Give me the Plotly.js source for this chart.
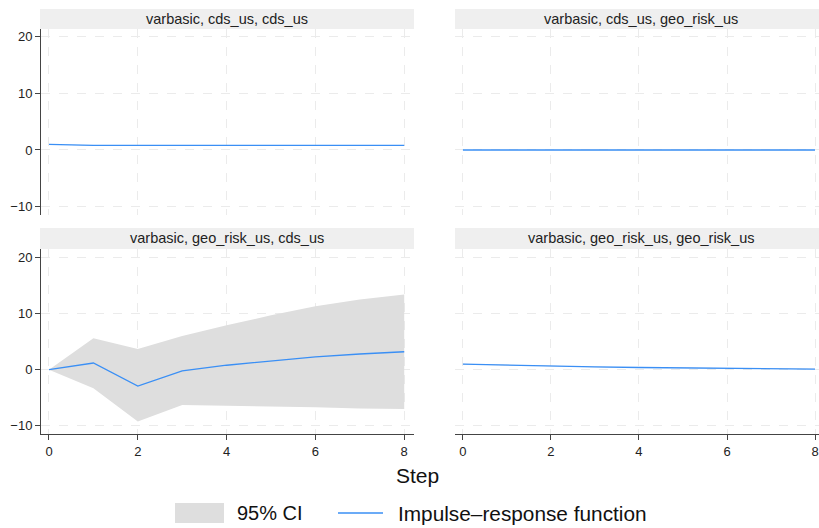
<!DOCTYPE html>
<html>
<head>
<meta charset="utf-8">
<script src="https://cdn.plot.ly/plotly-3.0.1.min.js"></script>
<style>html,body{margin:0;padding:0;background:#fff}#chart{width:819px;height:528px}</style>
</head>
<body>
<div id="chart"></div>
<script>
const steps = [0, 1, 2, 3, 4, 5, 6, 7, 8];

const panelTitles = [
  "varbasic, cds_us, cds_us",
  "varbasic, cds_us, geo_risk_us",
  "varbasic, geo_risk_us, cds_us",
  "varbasic, geo_risk_us, geo_risk_us"
];
const legendLabels = ["95% CI", "Impulse\u2013response function"];
const xTitle = "Step";

// Impulse-response functions
const irf_cds_cds = [1.0, 0.8, 0.8, 0.8, 0.8, 0.8, 0.8, 0.8, 0.8];
const irf_cds_geo = [0, 0, 0, 0, 0, 0, 0, 0, 0];
const irf_geo_cds = [0, 1.2, -2.9, -0.2, 0.8, 1.6, 2.3, 2.8, 3.2];
const irf_geo_geo = [1.0, 0.8, 0.6, 0.5, 0.4, 0.3, 0.25, 0.18, 0.12];

// 95% CI bounds (only clearly visible for geo_risk_us -> cds_us)
const ci_lo_cds_cds = [1.0, 0.75, 0.75, 0.75, 0.75, 0.75, 0.75, 0.75, 0.75];
const ci_hi_cds_cds = [1.0, 0.85, 0.85, 0.85, 0.85, 0.85, 0.85, 0.85, 0.85];
const ci_lo_cds_geo = [0, -0.05, -0.05, -0.05, -0.05, -0.05, -0.05, -0.05, -0.05];
const ci_hi_cds_geo = [0, 0.05, 0.05, 0.05, 0.05, 0.05, 0.05, 0.05, 0.05];
const ci_lo_geo_cds = [0, -3.3, -9.2, -6.3, -6.4, -6.5, -6.7, -6.9, -7.0];
const ci_hi_geo_cds = [0, 5.6, 3.7, 6.0, 7.9, 9.7, 11.3, 12.5, 13.4];
const ci_lo_geo_geo = [0.95, 0.75, 0.55, 0.45, 0.35, 0.25, 0.2, 0.13, 0.07];
const ci_hi_geo_geo = [1.05, 0.85, 0.65, 0.55, 0.45, 0.35, 0.3, 0.23, 0.17];

const yTicks = [-10, 0, 10, 20];
const xTicks = [0, 2, 4, 6, 8];

const W = 819, H = 528;
const FONT = "Liberation Sans, Arial, sans-serif";
const bandColor = "#dedede";
const lineColor = "#3a8ff5";

const panels = [
  {irf: irf_cds_cds, lo: ci_lo_cds_cds, hi: ci_hi_cds_cds, xa: "x", ya: "y"},
  {irf: irf_cds_geo, lo: ci_lo_cds_geo, hi: ci_hi_cds_geo, xa: "x2", ya: "y2"},
  {irf: irf_geo_cds, lo: ci_lo_geo_cds, hi: ci_hi_geo_cds, xa: "x3", ya: "y3"},
  {irf: irf_geo_geo, lo: ci_lo_geo_geo, hi: ci_hi_geo_geo, xa: "x4", ya: "y4"}
];

const traces = [];
panels.forEach((p) => {
  traces.push({x: steps, y: p.lo, xaxis: p.xa, yaxis: p.ya, mode: "lines",
    line: {width: 0, color: bandColor}, showlegend: false, hoverinfo: "skip"});
  traces.push({x: steps, y: p.hi, xaxis: p.xa, yaxis: p.ya, mode: "lines",
    fill: "tonexty", fillcolor: bandColor, line: {width: 0, color: bandColor},
    name: legendLabels[0], showlegend: false});
});
panels.forEach((p) => {
  traces.push({x: steps, y: p.irf, xaxis: p.xa, yaxis: p.ya, mode: "lines",
    line: {width: 1.3, color: lineColor}, name: legendLabels[1], showlegend: false});
});

// pixel geometry
const L = {x0: 41, x1: 414}, R = {x0: 455, x1: 819};
const T = {y0: 29, y1: 215}, B = {y0: 249, y1: 434.3};
const dx = (a) => [a.x0 / W, a.x1 / W];
const dy = (a) => [1 - a.y1 / H, 1 - a.y0 / H];
const px = (v) => v / W, py = (v) => 1 - v / H;

const gridCol = "#ebebeb";
function xax(dom, anchor, showLine, showLabels, range) {
  return {domain: dom, anchor: anchor, range: range, tickvals: xTicks,
    showgrid: true, gridcolor: gridCol, griddash: "dash", gridwidth: 1,
    zeroline: false, showline: showLine, linecolor: "#444", linewidth: 1,
    ticks: showLabels ? "outside" : "", ticklen: 5, tickcolor: "#444",
    ticklabeloverflow: "allow",
    showticklabels: showLabels, tickfont: {size: 13, color: "#222", family: FONT}};
}
function yax(dom, anchor, showLine, showLabels, range) {
  return {domain: dom, anchor: anchor, range: range, tickvals: yTicks,
    showgrid: true, gridcolor: gridCol, griddash: "dash", gridwidth: 1,
    zeroline: false, showline: showLine, linecolor: "#444", linewidth: 1,
    ticks: showLabels ? "outside" : "", ticklen: 5, tickcolor: "#444",
    showticklabels: showLabels, tickfont: {size: 13, color: "#222", family: FONT}};
}
const xrL = [-0.18, 8.22], xrR = [-0.18, 8.09];
const yrT = [-11.5, 21.4], yrB = [-11.5, 21.5];

const shapes = [], annotations = [];
const strips = [
  {x0: 40, x1: 414, y0: 9, y1: 29, t: panelTitles[0]},
  {x0: 455, x1: 819, y0: 9, y1: 29, t: panelTitles[1]},
  {x0: 40, x1: 414, y0: 228, y1: 249, t: panelTitles[2]},
  {x0: 455, x1: 819, y0: 228, y1: 249, t: panelTitles[3]}
];
strips.forEach(s => {
  shapes.push({type: "rect", xref: "paper", yref: "paper",
    x0: px(s.x0), x1: px(s.x1), y0: py(s.y1), y1: py(s.y0),
    fillcolor: "#efefef", line: {width: 0}, layer: "below"});
  annotations.push({xref: "paper", yref: "paper", x: px((s.x0 + (s.x1 === 819 ? 826 : s.x1)) / 2),
    y: py((s.y0 + s.y1) / 2), text: s.t, showarrow: false,
    xanchor: "center", yanchor: "middle", font: {size: 14.5, color: "#222", family: FONT}});
});
annotations.push({xref: "paper", yref: "paper", x: px(417), y: py(475), text: xTitle,
  showarrow: false, xanchor: "center", yanchor: "middle", font: {size: 21, color: "#111", family: FONT}});

// legend (drawn manually to match box-style key)
shapes.push({type: "rect", xref: "paper", yref: "paper", x0: px(175), x1: px(224), y0: py(523), y1: py(503),
  fillcolor: bandColor, line: {width: 0}});
shapes.push({type: "line", xref: "paper", yref: "paper", x0: px(338), x1: px(383), y0: py(513), y1: py(513),
  line: {color: lineColor, width: 1.3}});
annotations.push({xref: "paper", yref: "paper", x: px(235), y: py(513), text: legendLabels[0],
  showarrow: false, xanchor: "left", yanchor: "middle", font: {size: 20, color: "#111", family: FONT}});
annotations.push({xref: "paper", yref: "paper", x: px(396), y: py(513), text: legendLabels[1],
  showarrow: false, xanchor: "left", yanchor: "middle", font: {size: 20.8, color: "#111", family: FONT}});

const layout = {
  width: W, height: H, margin: {l: 0, r: 0, t: 0, b: 0},
  paper_bgcolor: "#fff", plot_bgcolor: "rgba(0,0,0,0)",
  font: {family: FONT},
  xaxis: xax(dx(L), "y", false, false, xrL),
  yaxis: yax(dy(T), "x", true, true, yrT),
  xaxis2: xax(dx(R), "y2", false, false, xrR),
  yaxis2: yax(dy(T), "x2", false, false, yrT),
  xaxis3: xax(dx(L), "y3", true, true, xrL),
  yaxis3: yax(dy(B), "x3", true, true, yrB),
  xaxis4: xax(dx(R), "y4", true, true, xrR),
  yaxis4: yax(dy(B), "x4", false, false, yrB),
  shapes: shapes, annotations: annotations,
  showlegend: false
};

Plotly.newPlot("chart", traces, layout, {staticPlot: true, displayModeBar: false});
</script>
</body>
</html>
